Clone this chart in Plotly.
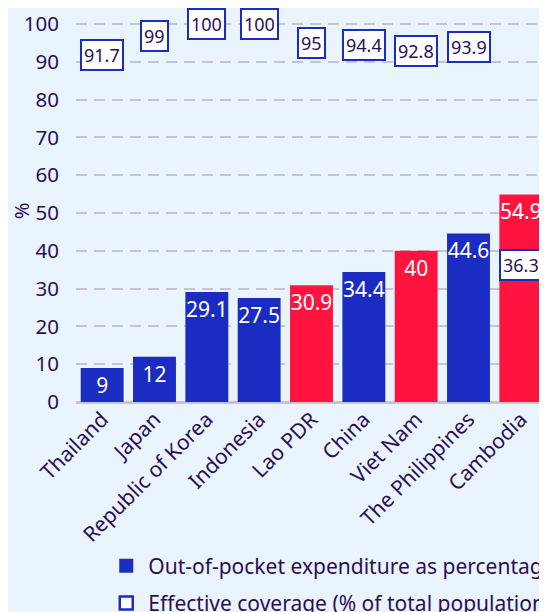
import plotly.graph_objects as go

countries = ["Thailand", "Japan", "Republic of Korea", "Indonesia", "Lao PDR",
             "China", "Viet Nam", "The Philippines", "Cambodia"]
oop = [9, 12, 29.1, 27.5, 30.9, 34.4, 40, 44.6, 54.9]
coverage = [91.7, 99, 100, 100, 95, 94.4, 92.8, 93.9, 36.3]
highlight = [False, False, False, False, True, False, True, False, True]

BLUE = "#1b2cc2"
RED = "#ff1440"
INK = "#2a0f57"
BG = "#eaf4fd"
GRID = "#c9c1d9"
FONT = "Noto Sans"

bar_colors = [RED if h else BLUE for h in highlight]

fig = go.Figure()
fig.add_trace(go.Bar(
    x=countries, y=oop,
    marker=dict(color=bar_colors, line=dict(width=0)),
    text=[f"{v:g}" for v in oop],
    textposition="inside", insidetextanchor="end", textangle=0,
    constraintext="none", cliponaxis=False,
    textfont=dict(color="white", size=21, family=FONT),
    showlegend=False,
))
# legend entries only
fig.add_trace(go.Scatter(
    x=[countries[0]], y=[None], mode="markers", legendgroup="a",
    marker=dict(symbol="square", size=14, color=BLUE),
    name="Out-of-pocket expenditure as percentage of current health expenditure (%)",
))
fig.add_trace(go.Scatter(
    x=[countries[0]], y=[None], mode="markers", legendgroup="b",
    marker=dict(symbol="square", size=13, color="white", line=dict(color=BLUE, width=2.5)),
    name="Effective coverage (% of total population)",
))

for c, v in zip(countries, coverage):
    fig.add_annotation(
        x=c, y=v, text=f"{v:g}", showarrow=False,
        yshift=-8 if v == 99 else 0,
        font=dict(color=INK, size=18, family=FONT),
        bgcolor="white", bordercolor=BLUE, borderwidth=2, borderpad=2,
    )

fig.update_layout(
    width=539, height=604,
    margin=dict(l=68, r=0, t=12, b=210, autoexpand=False),
    paper_bgcolor=BG, plot_bgcolor=BG,
    font=dict(family=FONT, color=INK, size=21),
    bargap=0.18,
    legend=dict(
        orientation="v", x=0.06, xanchor="left", y=-0.376, yanchor="top",
        font=dict(size=21, color=INK), bgcolor="rgba(0,0,0,0)",
        tracegroupgap=7, itemwidth=34,
    ),
    xaxis=dict(type="category", categoryorder="array", categoryarray=countries,
               range=[-0.5, len(countries) - 0.5],
               tickangle=-45, tickfont=dict(size=21, color=INK), showgrid=False,
               showline=False, ticks="", automargin=False),
    yaxis=dict(range=[0, 101.06], tickvals=list(range(0, 101, 10)),
               tickfont=dict(size=20.5, color=INK), automargin=False,
               gridcolor=GRID, griddash="11px,7px", gridwidth=2,
               zeroline=True, zerolinecolor=GRID, zerolinewidth=3,
               title=dict(text="%", font=dict(size=20, color=INK), standoff=11),
               ticks="", ticklabelstandoff=16),
)

fig.write_html("out.html")
